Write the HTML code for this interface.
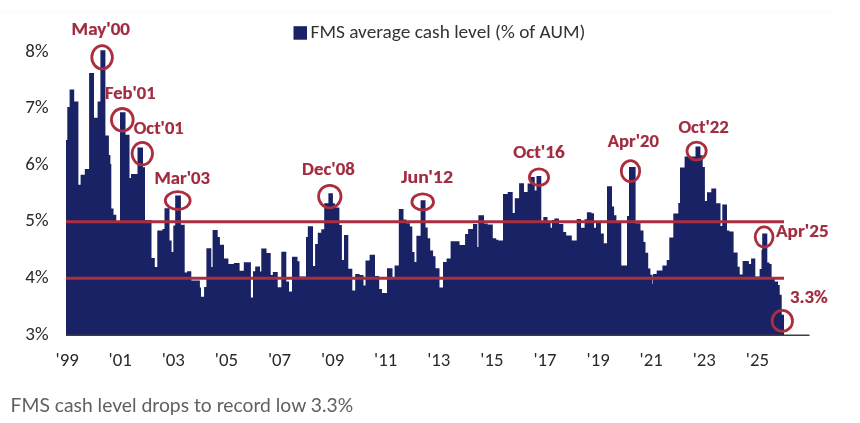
<!DOCTYPE html>
<html><head><meta charset="utf-8"><title>FMS average cash level</title>
<style>
html,body{margin:0;padding:0;background:#fff;}
body{width:860px;height:423px;overflow:hidden;position:relative;}
svg{position:absolute;left:0;top:0;display:block;filter:blur(0.4px);}
.ax text{font-family:Carlito,"Liberation Sans Narrow","Liberation Sans",sans-serif;font-size:19px;fill:#2a2a2a;}
.ax text.xl{font-size:18.8px;}
.lg{font-family:Carlito,"Liberation Sans Narrow","Liberation Sans",sans-serif;font-size:19.1px;fill:#333333;}
.an text{font-family:Carlito,"Liberation Sans Narrow","Liberation Sans",sans-serif;font-weight:bold;font-size:18.6px;fill:#a12b3f;stroke:#a12b3f;stroke-width:0.2px;}
.cap{font-family:Lato,"Liberation Sans",sans-serif;font-size:19.3px;fill:#606060;}
</style></head>
<body>
<svg width="860" height="423" viewBox="0 0 860 423">
<rect x="0" y="10" width="832" height="4" fill="#fcfcfc"/>
<rect x="293.5" y="26.2" width="13.5" height="13.5" fill="#192265"/>
<text class="lg" x="310.5" y="38" textLength="274.8" lengthAdjust="spacingAndGlyphs">FMS average cash level (% of AUM)</text>
<path d="M66.0,335.5V140H67.3V107H69.6V89.6H74.2V101.4H78.4V184.7H80.6V174.8H84.8V169.1H89.1V72.9H94.0V117.7H97.6V101.4H100.4V50.2H105.4V135.4H108.9V155H110.4V164H111.3V208.4H113.5V214.8H116.3V221H120.0V112.2H125.5V134.8H129.5V178H131.0V174H137.5V147.5H143.0V167.3H145.0V220H151.5V258H154.8V267H157.3V230.4H162.4V229H164.5V208.2H169.5V240.4H171.6V252H173.3V225.5H175.2V195.4H180.9V224.8H184.7V272.6H187.0V271.3H191.3V280.5H199.9V287.6H201.0V296.8H204.1V286.9H206.4V248.3H211.3V267H212.6V229.9H217.7V237H219.9V244.8H224.0V258.4H228.4V264H233.9V263H239.6V270.8H243.8V262.2H250.9V297.5H253.0V271.3H255.2V266.5H260.0V271.5H261.3V248.4H266.5V253H270.7V275H272.8V272H277.7V287.2H281.3V251.8H286.3V281.5H289.0V291.5H292.0V256.8H297.5V261.2H299.5V276.5H306.0V237H307.8V226.3H313.0V266H315.1V244H317.8V232.7H321.3V229.2H324.2V203.3H328.4V193.3H332.9V203.3H334.8V207.5H339.4V225H341.9V260H344.0V234.9H348.3V268.7H352.3V290.5H355.2V274H359.6V275H363.5V285.5H365.5V260.6H369.6V254.8H375.0V276H379.2V289H382.0V293H387.0V268.2H392.5V279H394.6V265.4H398.8V209.1H403.5V219.5H406.4V223.3H409.9V226.5H412.3V252H414.5V262H416.4V235.8H420.6V200.3H425.5V227.6H427.7V238.2H430.2V250.6H433.1V256.3H435.5V268.3H439.5V287.5H443.0V262H446.6V258.4H450.6V241.2H459.5V244.9H465.1V234H468.1V229H473.0V224H477.3V247H478.4V215.3H484.0V223.4H487.7V224.5H492.8V238.3H496.2V239.8H498.4V240.5H503.0V194.1H507.7V192H512.7V213H514.8V198.3H519.1V183.2H524.0V192H527.6V183.4H530.4V177.1H534.7V190.5H536.5V176.1H541.3V221H543.3V217H547.5V221.3H550.6V227.7H552.0V220H554.3V218.4H559.0V224.1H563.3V232H566.2V235.5H571.8V240.5H576.7V219H581.0V227.7H584.6V219.2H586.9V212.3H591.4V213.2H594.0V227.7H596.0V222H600.9V233.4H603.8V243.3H607.0V186.2H612.0V206.4H614.1V215.2H616.4V221H621.3V265.5H627.0V216H629.0V167H635.6V223.3H640.5V230.5H643.5V242H645.5V252.8H648.2V268.4H650.4V274.8H652.5V284H653.0V274H656.7V270.5H662.4V265.5H666.7V259.9H669.3V237.6H673.3V213.4H678.3V203H680.0V167.5H684.6V156.6H695.5V146.6H700.4V155.2H702.7V167H704.9V201H707.0V192.3H711.3V188.4H716.2V203.3H720.5V226H722.3V204.6H727.0V230.5H729.4V231.6H733.6V252.5H737.6V266.8H739.7V274.6H742.6V261.1H748.9V264H751.1V258.6H755.3V276.5H759.6V269H761.5V250H762.2V233.5H767.3V262.5H769.5V264H771.6V277.5H774.7V281.6H778.0V284.9H779.7V294.8H781.7V314.7H784.0V335.5Z" fill="#192265"/>
<g stroke="#ab2e3f" stroke-width="3"><line x1="66" y1="221.7" x2="784" y2="221.7"/><line x1="66" y1="278.2" x2="784" y2="278.2"/></g>
<line x1="66" y1="335.3" x2="809.5" y2="335.3" stroke="#3c3c3c" stroke-width="1.6"/>
<g class="ax"><text x="48.5" y="56.6" text-anchor="end" textLength="23.22" lengthAdjust="spacingAndGlyphs">8%</text><text x="48.5" y="113.2" text-anchor="end" textLength="23.22" lengthAdjust="spacingAndGlyphs">7%</text><text x="48.5" y="169.8" text-anchor="end" textLength="23.22" lengthAdjust="spacingAndGlyphs">6%</text><text x="48.5" y="226.4" text-anchor="end" textLength="23.22" lengthAdjust="spacingAndGlyphs">5%</text><text x="48.5" y="283.0" text-anchor="end" textLength="23.22" lengthAdjust="spacingAndGlyphs">4%</text><text x="48.5" y="339.6" text-anchor="end" textLength="23.22" lengthAdjust="spacingAndGlyphs">3%</text><text class="xl" x="67.1" y="365.5" text-anchor="middle" textLength="23.19" lengthAdjust="spacingAndGlyphs">'99</text><text class="xl" x="120.2" y="365.5" text-anchor="middle" textLength="23.19" lengthAdjust="spacingAndGlyphs">'01</text><text class="xl" x="173.3" y="365.5" text-anchor="middle" textLength="23.19" lengthAdjust="spacingAndGlyphs">'03</text><text class="xl" x="226.4" y="365.5" text-anchor="middle" textLength="23.19" lengthAdjust="spacingAndGlyphs">'05</text><text class="xl" x="279.5" y="365.5" text-anchor="middle" textLength="23.19" lengthAdjust="spacingAndGlyphs">'07</text><text class="xl" x="332.6" y="365.5" text-anchor="middle" textLength="23.19" lengthAdjust="spacingAndGlyphs">'09</text><text class="xl" x="385.7" y="365.5" text-anchor="middle" textLength="23.19" lengthAdjust="spacingAndGlyphs">'11</text><text class="xl" x="438.8" y="365.5" text-anchor="middle" textLength="23.19" lengthAdjust="spacingAndGlyphs">'13</text><text class="xl" x="491.9" y="365.5" text-anchor="middle" textLength="23.19" lengthAdjust="spacingAndGlyphs">'15</text><text class="xl" x="545.0" y="365.5" text-anchor="middle" textLength="23.19" lengthAdjust="spacingAndGlyphs">'17</text><text class="xl" x="598.1" y="365.5" text-anchor="middle" textLength="23.19" lengthAdjust="spacingAndGlyphs">'19</text><text class="xl" x="651.2" y="365.5" text-anchor="middle" textLength="23.19" lengthAdjust="spacingAndGlyphs">'21</text><text class="xl" x="704.3" y="365.5" text-anchor="middle" textLength="23.19" lengthAdjust="spacingAndGlyphs">'23</text><text class="xl" x="757.4" y="365.5" text-anchor="middle" textLength="23.19" lengthAdjust="spacingAndGlyphs">'25</text></g>
<g fill="none" stroke="#ab2e3f" stroke-width="2.8"><ellipse cx="102.1" cy="57.3" rx="10.3" ry="11.6"/><ellipse cx="122.3" cy="119.8" rx="10.9" ry="11.3"/><ellipse cx="142.3" cy="153.6" rx="10.2" ry="11.3"/><ellipse cx="177.75" cy="200.6" rx="12.4" ry="8.9"/><ellipse cx="329.8" cy="196.6" rx="11.2" ry="11.3"/><ellipse cx="422.7" cy="201.9" rx="10.8" ry="8.1"/><ellipse cx="539.0" cy="177.2" rx="9.6" ry="8.4"/><ellipse cx="630.5" cy="171.2" rx="9.2" ry="10.5"/><ellipse cx="696.6" cy="151.1" rx="9.6" ry="8.9"/><ellipse cx="764.1" cy="237" rx="8.9" ry="10.1"/><ellipse cx="782.3" cy="320.9" rx="10.2" ry="10.5"/></g>
<g class="an"><text x="71.6" y="34.6" textLength="58.3" lengthAdjust="spacingAndGlyphs">May'00</text><text x="105.1" y="98.5" textLength="50.5" lengthAdjust="spacingAndGlyphs">Feb'01</text><text x="133.8" y="133.8" textLength="50" lengthAdjust="spacingAndGlyphs">Oct'01</text><text x="154.5" y="184.2" textLength="55.5" lengthAdjust="spacingAndGlyphs">Mar'03</text><text x="302.1" y="175" textLength="52.6" lengthAdjust="spacingAndGlyphs">Dec'08</text><text x="400.9" y="182.8" textLength="52.1" lengthAdjust="spacingAndGlyphs">Jun'12</text><text x="513.2" y="157.8" textLength="51.6" lengthAdjust="spacingAndGlyphs">Oct'16</text><text x="607.8" y="147" textLength="51.05" lengthAdjust="spacingAndGlyphs">Apr'20</text><text x="678.4" y="132.9" textLength="50.5" lengthAdjust="spacingAndGlyphs">Oct'22</text><text x="776" y="237" textLength="52.6" lengthAdjust="spacingAndGlyphs">Apr'25</text><text x="790" y="303.4" textLength="37.8" lengthAdjust="spacingAndGlyphs">3.3%</text></g>
<text class="cap" x="10.6" y="412" textLength="342.6" lengthAdjust="spacingAndGlyphs">FMS cash level drops to record low 3.3%</text>
</svg>
</body></html>
